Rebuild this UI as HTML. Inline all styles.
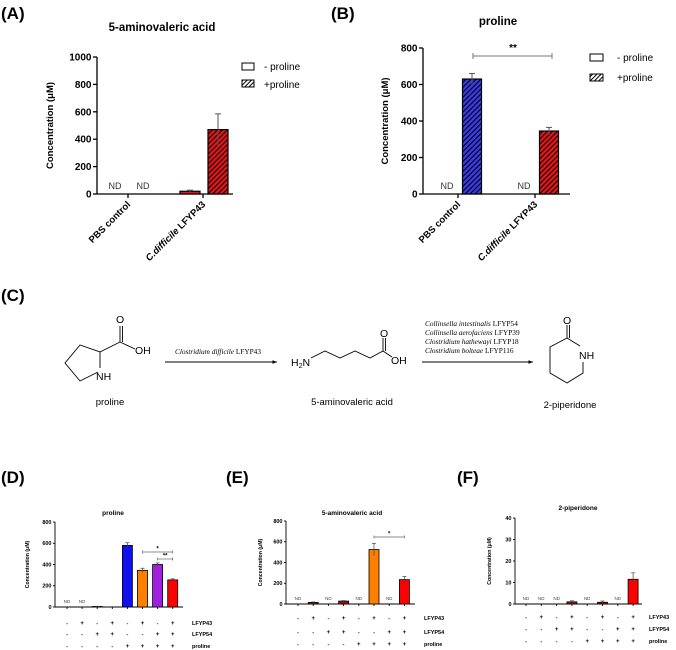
<!DOCTYPE html>
<html><head><meta charset="utf-8">
<style>
html,body{margin:0;padding:0;background:#fff;}
svg{display:block;font-family:"Liberation Sans",sans-serif;}
.b{font-weight:bold;}
</style></head>
<body>
<svg id="fig" width="676" height="650" viewBox="0 0 676 650" xmlns="http://www.w3.org/2000/svg">
<defs>
<pattern id="hatchRed" patternUnits="userSpaceOnUse" width="3.5" height="3.5" patternTransform="rotate(45)">
<rect width="3.5" height="3.5" fill="#e8141a"/><rect width="1.1" height="3.5" fill="#000"/></pattern>
<pattern id="hatchBlue" patternUnits="userSpaceOnUse" width="3.5" height="3.5" patternTransform="rotate(45)">
<rect width="3.5" height="3.5" fill="#3b3bea"/><rect width="1.1" height="3.5" fill="#000"/></pattern>
<pattern id="hatchWhite" patternUnits="userSpaceOnUse" width="3" height="3" patternTransform="rotate(45)">
<rect width="3" height="3" fill="#fff"/><rect width="1" height="3" fill="#000"/></pattern>
<marker id="arr" markerWidth="6" markerHeight="6" refX="5" refY="3" orient="auto"><path d="M0,1 L5,3 L0,5 Z" fill="#000"/></marker>
</defs>

<!-- Panel labels -->
<text x="1" y="19" font-size="17" class="b">(A)</text>
<text x="331" y="19" font-size="17" class="b">(B)</text>
<text x="1" y="301" font-size="17" class="b">(C)</text>
<text x="1" y="483" font-size="17" class="b">(D)</text>
<text x="226" y="483" font-size="17" class="b">(E)</text>
<text x="457" y="483" font-size="17" class="b">(F)</text>

<!-- Titles -->
<text x="162" y="31" font-size="11.5" class="b" text-anchor="middle">5-aminovaleric acid</text>
<text x="498" y="25" font-size="11.5" class="b" text-anchor="middle">proline</text>
<text x="113" y="515" font-size="6.5" class="b" text-anchor="middle">proline</text>
<text x="352" y="515" font-size="6.5" class="b" text-anchor="middle">5-aminovaleric acid</text>
<text x="578" y="510" font-size="6.5" class="b" text-anchor="middle">2-piperidone</text>

<!-- Legends -->
<g>
<rect x="242" y="63" width="12" height="7" fill="#fff" stroke="#000" stroke-width="1"/>
<text x="264" y="70" font-size="10">- proline</text>
<rect x="242" y="80" width="12" height="7" fill="url(#hatchWhite)" stroke="#000" stroke-width="1"/>
<text x="264" y="88" font-size="10">+proline</text>
</g>
<g>
<rect x="590" y="54" width="13" height="7" fill="#fff" stroke="#000" stroke-width="1"/>
<text x="617" y="61" font-size="10">- proline</text>
<rect x="590" y="74" width="13" height="7" fill="url(#hatchWhite)" stroke="#000" stroke-width="1"/>
<text x="617" y="81" font-size="10">+proline</text>
</g>

<!-- Panel C scheme -->
<g stroke="#000" stroke-width="0.9" fill="none">
<polyline points="98,372 80,381 65,363 80,345 100,352 100,368"/>
<line x1="100" y1="352" x2="120" y2="342"/>
<line x1="120" y1="342" x2="120" y2="326"/>
<line x1="122.5" y1="342" x2="122.5" y2="326"/>
<line x1="120" y1="342" x2="135" y2="349"/>
<line x1="165" y1="362" x2="277" y2="362" marker-end="url(#arr)"/>
<polyline points="311,358 325,351 340,358 355,351 370,358 383,351 392,357"/>
<line x1="383" y1="351" x2="383" y2="338"/>
<line x1="385.5" y1="351" x2="385.5" y2="338"/>
<line x1="422" y1="362" x2="533" y2="362" marker-end="url(#arr)"/>
<polyline points="580,346 567,338 550,347 550,373 567,383 583,373 583,362"/>
<line x1="567" y1="338" x2="567" y2="325"/>
<line x1="569.5" y1="338" x2="569.5" y2="325"/>
</g>
<g font-size="10.5">
<text x="116" y="323">O</text>
<text x="135" y="354">OH</text>
<text x="96" y="380">NH</text>
<text x="291" y="366">H<tspan font-size="7" dy="2">2</tspan><tspan dy="-2">N</tspan></text>
<text x="380" y="337">O</text>
<text x="391" y="364">OH</text>
<text x="563" y="324">O</text>
<text x="579" y="359">NH</text>
<text x="110" y="405" font-size="9.5" text-anchor="middle">proline</text>
<text x="352" y="405" font-size="9.5" text-anchor="middle">5-aminovaleric acid</text>
<text x="570" y="408" font-size="9.5" text-anchor="middle">2-piperidone</text>
</g>
<g font-family="'Liberation Serif',serif" font-size="7.3">
<text x="218" y="354" text-anchor="middle"><tspan font-style="italic">Clostridium difficile</tspan> LFYP43</text>
<text x="425" y="326"><tspan font-style="italic">Collinsella intestinalis</tspan> LFYP54</text>
<text x="425" y="335"><tspan font-style="italic">Collinsella aerofaciens</tspan> LFYP39</text>
<text x="425" y="344"><tspan font-style="italic">Clostridium hathewayi</tspan> LFYP18</text>
<text x="425" y="353"><tspan font-style="italic">Clostridium bolteae</tspan> LFYP116</text>
</g>

<g id="charts"></g>
</svg>
<script>
// ---- Chart A data ----
const aCategories = ["PBS control", "C.difficile LFYP43"];
const aMinus = [null, 20];
const aMinusErr = [0, 8];
const aPlus = [null, 470];
const aPlusErr = [0, 115];
const aTicks = [0, 200, 400, 600, 800, 1000];
// ---- Chart B data ----
const bCategories = ["PBS control", "C.difficile LFYP43"];
const bMinus = [null, null];
const bMinusErr = [0, 0];
const bPlus = [630, 345];
const bPlusErr = [30, 20];
const bTicks = [0, 200, 400, 600, 800];
// ---- Chart D data ----
const dValues = [null, null, 5, 0, 580, 345, 400, 255];
const dErr = [0, 0, 2, 0, 25, 20, 15, 10];
const dTicks = [0, 200, 400, 600, 800];
// ---- Chart E data ----
const eValues = [null, 15, null, 28, null, 525, null, 235];
const eErr = [0, 5, 0, 5, 0, 60, 0, 30];
const eTicks = [0, 200, 400, 600, 800];
// ---- Chart F data ----
const fValues = [null, null, null, 1, null, 0.8, null, 11.5];
const fErr = [0, 0, 0, 0.5, 0, 0.6, 0, 3];
const fTicks = [0, 10, 20, 30, 40];
// ---- sign table ----
const rowLabels = ["LFYP43", "LFYP54", "proline"];
const signLFYP43 = ["-", "+", "-", "+", "-", "+", "-", "+"];
const signLFYP54 = ["-", "-", "+", "+", "-", "-", "+", "+"];
const signProline = ["-", "-", "-", "-", "+", "+", "+", "+"];

const NS = "http://www.w3.org/2000/svg";
const root = document.getElementById("charts");
function mk(tag, attrs, parent, text) {
  const el = document.createElementNS(NS, tag);
  for (const k in attrs) el.setAttribute(k, attrs[k]);
  if (text !== undefined) el.textContent = text;
  (parent || root).appendChild(el);
  return el;
}
function axisY(g, x0, y0, yTop, max, ticks, fs, tickLen, sw) {
  const ys = v => y0 - (v / max) * (y0 - yTop);
  mk("line", {x1: x0, y1: y0, x2: x0, y2: yTop, stroke: "#000", "stroke-width": sw}, g);
  ticks.forEach(t => {
    mk("line", {x1: x0 - tickLen, y1: ys(t), x2: x0, y2: ys(t), stroke: "#000", "stroke-width": sw}, g);
    const tl = mk("text", {x: x0 - tickLen - 1.5, y: ys(t) + fs * 0.35, "font-size": fs, "font-weight": "bold", "text-anchor": "end"}, g, String(t));
    
    
  });
  return ys;
}
function errBar(g, cx, ys, v, e, w, col, sw) {
  if (!e) return;
  mk("line", {x1: cx, y1: ys(v - e), x2: cx, y2: ys(v + e), stroke: col, "stroke-width": sw}, g);
  mk("line", {x1: cx - w, y1: ys(v + e), x2: cx + w, y2: ys(v + e), stroke: col, "stroke-width": sw}, g);
}

// ---- Big grouped charts (A, B) ----
function bigChart(name, cfg) {
  const g = mk("g", {});
  
  
  const ys = axisY(g, cfg.x0, cfg.y0, cfg.yTop, cfg.max, cfg.ticks, 10, 4, 1.3);
  mk("line", {x1: cfg.x0, y1: cfg.y0, x2: cfg.xEnd, y2: cfg.y0, stroke: "#000", "stroke-width": 1.3}, g);
  const yl = mk("text", {x: 0, y: 0, "font-size": 9.5, "font-weight": "bold", "text-anchor": "middle", transform: `translate(${cfg.yLabelX},${(cfg.y0 + cfg.yTop) / 2}) rotate(-90)`}, g, "Concentration (μM)");
  
  
  cfg.cats.forEach((c, i) => {
    const tx = cfg.firstTick + i * cfg.groupW;
    mk("line", {x1: tx, y1: cfg.y0, x2: tx, y2: cfg.y0 + 4, stroke: "#000", "stroke-width": 1.3}, g);
    const lab = mk("text", {x: 0, y: 0, "font-size": 9.5, "font-weight": "bold", "text-anchor": "end", transform: `translate(${tx + 3},${cfg.y0 + 11}) rotate(-45)`}, g);
    
    
    if (c.startsWith("C.difficile")) {
      mk("tspan", {"font-style": "italic"}, lab, "C.difficile");
      mk("tspan", {}, lab, " LFYP43");
    } else lab.textContent = c;
    [[cfg.minus, cfg.minusErr, -cfg.off1, cfg.minusFill], [cfg.plus, cfg.plusErr, cfg.off2, cfg.plusFill[i]]].forEach(([vals, errs, off, fill], s) => {
      const cx = tx + off;
      const v = vals[i];
      if (v === null) {
        const nd = mk("text", {x: cx, y: cfg.y0 - 5, "font-size": 9, fill: "#333", "text-anchor": "middle"}, g, "ND");
        
        
        return;
      }
      const r = mk("rect", {x: cx - cfg.bw / 2, y: ys(v), width: cfg.bw, height: cfg.y0 - ys(v), fill: s === 0 ? cfg.minusFillColor[i] : fill, stroke: "#000", "stroke-width": 1.2}, g);
      
      
      errBar(g, cx, ys, v, errs[i], 3, "#555", 1);
    });
  });
  return {g, ys};
}
bigChart("chart-a", {x0: 97, y0: 194, yTop: 57, max: 1000, ticks: aTicks, xEnd: 233, yLabelX: 53,
  cats: aCategories, firstTick: 128, groupW: 75, off1: 13, off2: 15, bw: 20,
  minus: aMinus, minusErr: aMinusErr, plus: aPlus, plusErr: aPlusErr,
  minusFillColor: ["#e8141a", "#e8141a"], plusFill: ["url(#hatchRed)", "url(#hatchRed)"]});
const B = bigChart("chart-b", {x0: 423, y0: 194, yTop: 48, max: 800, ticks: bTicks, xEnd: 570, yLabelX: 388,
  cats: bCategories, firstTick: 458, groupW: 77, off1: 11, off2: 14, bw: 19,
  minus: bMinus, minusErr: bMinusErr, plus: bPlus, plusErr: bPlusErr,
  minusFillColor: ["#fff", "#fff"], plusFill: ["url(#hatchBlue)", "url(#hatchRed)"]});
// significance B
{
  const sg = mk("g", {});
  
  
  mk("line", {x1: 473, y1: 56, x2: 552, y2: 56, stroke: "#777", "stroke-width": 1}, sg);
  mk("line", {x1: 473, y1: 53, x2: 473, y2: 59, stroke: "#777", "stroke-width": 1}, sg);
  mk("line", {x1: 552, y1: 53, x2: 552, y2: 59, stroke: "#777", "stroke-width": 1}, sg);
  mk("text", {x: 513, y: 51, "font-size": 10, "font-weight": "bold", "text-anchor": "middle"}, sg, "**");
}

// ---- Small charts (D, E, F) ----
function smallChart(name, cfg) {
  const g = mk("g", {});
  
  
  const ys = axisY(g, cfg.x0, cfg.y0, cfg.yTop, cfg.max, cfg.ticks, 5.5, 2, 0.9);
  mk("line", {x1: cfg.x0, y1: cfg.y0, x2: cfg.xEnd, y2: cfg.y0, stroke: "#000", "stroke-width": 0.9}, g);
  const yl = mk("text", {x: 0, y: 0, "font-size": 5.2, "font-weight": "bold", "text-anchor": "middle", transform: `translate(${cfg.yLabelX},${(cfg.y0 + cfg.yTop) / 2}) rotate(-90)`}, g, "Concentration (μM)");
  
  
  const xs = i => cfg.firstTick + i * cfg.step;
  cfg.values.forEach((v, i) => {
    const cx = xs(i);
    mk("line", {x1: cx, y1: cfg.y0, x2: cx, y2: cfg.y0 + 2, stroke: "#000", "stroke-width": 0.9}, g);
    if (v === null) {
      const nd = mk("text", {x: cx, y: cfg.y0 - 4, "font-size": 4.5, fill: "#444", "text-anchor": "middle"}, g, "ND");
      
      
      return;
    }
    const h = Math.max(cfg.y0 - ys(v), 0);
    const r = mk("rect", {x: cx - cfg.bw / 2, y: cfg.y0 - h, width: cfg.bw, height: h, fill: cfg.colors[i], stroke: "#000", "stroke-width": 0.8}, g);
    
    
    errBar(g, cx, ys, v, cfg.err[i], 2, "#444", 0.7);
  });
  [signLFYP43, signLFYP54, signProline].forEach((row, r) => {
    row.forEach((s, i) => {
      mk("text", {x: xs(i), y: cfg.rowY[r] + 2, "font-size": s === "+" ? 6 : 5.5, "font-weight": "bold", "text-anchor": "middle"}, g, s);
    });
    const rl = mk("text", {x: cfg.rowLabelX, y: cfg.rowY[r] + 2, "font-size": 5.5, "font-weight": "bold"}, g, rowLabels[r]);
    
    
  });
  return {g, xs, ys};
}
const D = smallChart("chart-d", {x0: 55, y0: 607, yTop: 522, max: 800, ticks: dTicks, xEnd: 183, yLabelX: 29,
  firstTick: 67, step: 15.1, bw: 10, values: dValues, err: dErr,
  colors: ["#888", "#888", "#8b1010", "#888", "#1010ee", "#ff8000", "#a020e0", "#ff0000"],
  rowY: [623, 634, 646], rowLabelX: 192});
const E = smallChart("chart-e", {x0: 286, y0: 604, yTop: 521, max: 800, ticks: eTicks, xEnd: 415, yLabelX: 262,
  firstTick: 298, step: 15.2, bw: 10, values: eValues, err: eErr,
  colors: ["#888", "#8b1010", "#888", "#a01010", "#888", "#ff8000", "#888", "#ff0000"],
  rowY: [618, 632, 644], rowLabelX: 424});
const F = smallChart("chart-f", {x0: 515, y0: 604, yTop: 518, max: 40, ticks: fTicks, xEnd: 642, yLabelX: 491,
  firstTick: 526, step: 15.3, bw: 10, values: fValues, err: fErr,
  colors: ["#888", "#888", "#888", "#a01010", "#888", "#a01010", "#888", "#ff0000"],
  rowY: [617, 629, 641], rowLabelX: 649});

function sigLine(g, x1, x2, y, label) {
  const s = mk("g", {}, g);
  
  
  mk("line", {x1, y1: y, x2, y2: y, stroke: "#666", "stroke-width": 0.7}, s);
  mk("line", {x1, y1: y - 1.5, x2: x1, y2: y + 1.5, stroke: "#666", "stroke-width": 0.7}, s);
  mk("line", {x1: x2, y1: y - 1.5, x2, y2: y + 1.5, stroke: "#666", "stroke-width": 0.7}, s);
  mk("text", {x: (x1 + x2) / 2, y: y - 1.5, "font-size": 6, "font-weight": "bold", "text-anchor": "middle"}, s, label);
}
sigLine(D.g, D.xs(5), D.xs(7), 552, "*");
sigLine(D.g, D.xs(6), D.xs(7), 559, "**");
sigLine(E.g, E.xs(5), E.xs(7), 537, "*");
</script>
</body></html>
